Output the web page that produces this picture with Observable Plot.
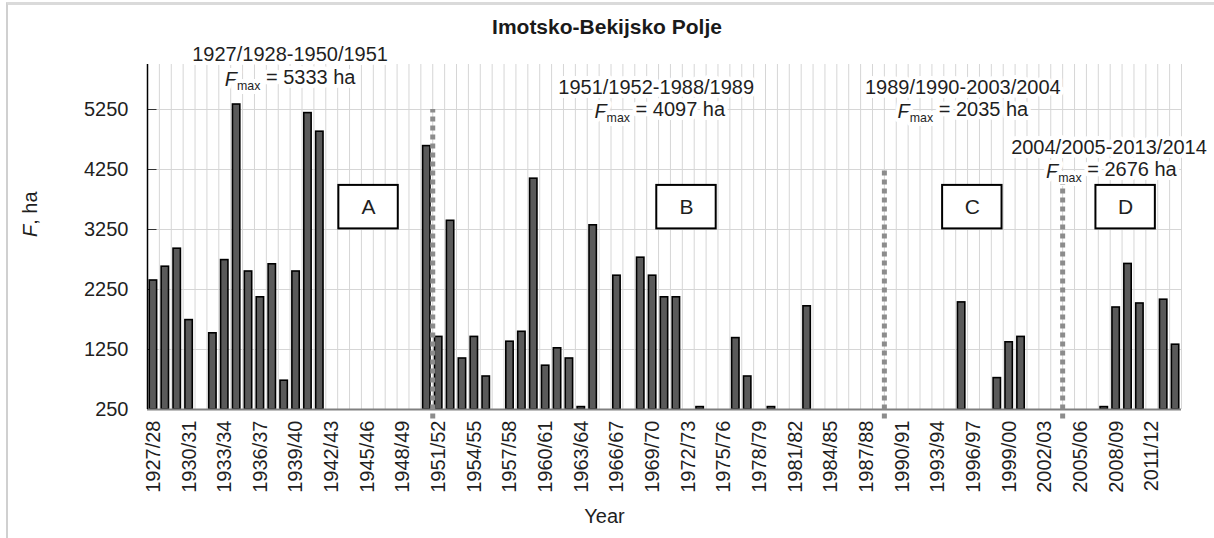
<!DOCTYPE html>
<html><head><meta charset="utf-8">
<script src="https://cdn.jsdelivr.net/npm/d3@7"></script>
<script src="https://cdn.jsdelivr.net/npm/@observablehq/plot@0.6"></script>
<style>
body{margin:0;background:#fff;font-family:"Liberation Sans",Arial,sans-serif;}
#wrap{position:relative;width:1214px;height:538px;overflow:hidden;background:#fff;}
#title{height:40px;box-sizing:border-box;padding-top:17px;line-height:20px;text-align:center;font-weight:bold;font-size:21px;color:#1a1a1a;}
#frame{position:absolute;left:6px;top:2px;right:-10px;bottom:-10px;border-left:2px solid #d0d0d0;border-top:3px solid #dadada;pointer-events:none}
</style></head><body>
<div id="wrap"><div id="title">Imotsko-Bekijsko Polje</div><div id="chart"></div><div id="frame"></div></div>
<script>
// Hydrological years (start year of each season 1927/28 ... 2013/14)
const startYears = [1927,1928,1929,1930,1931,1932,1933,1934,1935,1936,1937,1938,1939,1940,1941,1942,1943,1944,1945,1946,1947,1948,1949,
  1950,1951,1952,1953,1954,1955,1956,1957,1958,1959,1960,1961,1962,1963,1964,1965,1966,1967,1968,1969,1970,1971,1972,1973,1974,1975,
  1976,1977,1978,1979,1980,1981,1982,1983,1984,1985,1986,1987,1988,1989,1990,1991,1992,1993,1994,1995,1996,1997,1998,1999,2000,2001,
  2002,2003,2004,2005,2006,2007,2008,2009,2010,2011,2012,2013];
// Flooded area F (ha); null = no flooding
const areas = [2400,2630,2930,1740,null,1520,2740,5333,2550,2120,2670,730,2550,5190,4880,
  null,null,null,null,null,null,null,null,
  4640,1460,3395,1100,1460,800,null,1380,1545,4097,980,1270,1100,290,3320,null,2480,null,2780,2480,2120,2120,null,290,null,null,1440,800,null,290,null,null,1970,
  null,null,null,null,null,null,null,null,null,null,null,null,
  2035,null,null,773,1370,1460,
  null,null,null,null,null,null,
  290,1950,2676,2017,null,2080,1330];
const tickYears = [1927,1930,1933,1936,1939,1942,1945,1948,1951,1954,1957,1960,1963,1966,1969,1972,1975,1978,1981,1984,1987,1990,1993,1996,1999,2002,2005,2008,2011];
const yTicks = [250,1250,2250,3250,4250,5250];
// Period annotations
const periodLabels = ["1927/1928-1950/1951","1951/1952-1988/1989","1989/1990-2003/2004","2004/2005-2013/2014"];
const fmaxLabels = ["Fmax = 5333 ha","Fmax = 4097 ha","Fmax = 2035 ha","Fmax = 2676 ha"];
const periodX = [1938.5,1969.3,1995.1,2007.4];
const fmaxX = [1938.5,1969.6,1995.1,2007.6];
const periodY = [6170,5620,5620,4620];
const fmaxY = [5745,5212,5212,4212];
// Period boundaries (between seasons) and top of divider line
const dividerX = [1950.5,1988.5,2003.5];
const dividerTop = [5250,4250,4000];
// Period boxes
const boxLabels = ["A","B","C","D"];
const boxX = [1945.1,1971.85,1995.9,2008.8];

const data = startYears.map((y,i)=>({year:y, area:areas[i]})).filter(d=>d.area!=null);
const fmt = y => `${y}/${String((y+1)%100).padStart(2,"0")}`;
const dividers = dividerX.map((x,i)=>({x, top:dividerTop[i]}));

const chart = Plot.plot({
  width:1214, height:498, marginTop:24, marginBottom:129, marginLeft:147, marginRight:33,
  style:{fontFamily:"'Liberation Sans', Arial, sans-serif", fontSize:"20px", color:"#1f1f1f", background:"white", overflow:"visible"},
  x:{domain:[1926.5,2013.5]},
  y:{domain:[250,6000]},
  marks:[
    Plot.ruleX(startYears, {x:d=>d+0.5, stroke:"#d6d6d6", strokeWidth:1}),
    Plot.ruleY(yTicks.slice(1), {stroke:"#d6d6d6", strokeWidth:1}),
    Plot.ruleY(yTicks, {x1:1926.5, x2:1927.3, stroke:"#333", strokeWidth:1}),
    Plot.text(periodLabels, {x:(d,i)=>periodX[i], y:(d,i)=>periodY[i], text:d=>d, fontSize:20, fill:"#1f1f1f", stroke:"white", strokeWidth:8, paintOrder:"stroke"}),
    Plot.text(fmaxLabels, {x:(d,i)=>fmaxX[i], y:(d,i)=>fmaxY[i], text:d=>d, fontSize:20, fill:"#1f1f1f", stroke:"white", strokeWidth:8, paintOrder:"stroke"}),
    Plot.rect(data, {x1:d=>d.year-0.31, x2:d=>d.year+0.31, y1:250, y2:"area", fill:"#5a5a5a", stroke:"#000", strokeWidth:1.6}),
    Plot.ruleY([250], {stroke:"#808080", strokeWidth:2}),
    Plot.ruleX([1926.5], {stroke:"#000", strokeWidth:1.5}),
    Plot.ruleX(dividers, {x:"x", y1:90, y2:"top", stroke:"#8c8c8c", strokeWidth:5, strokeDasharray:"5,4"}),
    Plot.rect(boxLabels, {x1:(d,i)=>boxX[i]-2.5, x2:(d,i)=>boxX[i]+2.5, y1:3260, y2:3985, fill:"white", stroke:"#000", strokeWidth:2}),
    Plot.text(boxLabels, {x:(d,i)=>boxX[i], y:3622, text:d=>d, fontSize:21, fill:"#1f1f1f"}),
    Plot.axisY({ticks:yTicks, tickFormat:d=>String(d), tickSize:0, tickPadding:19, fontSize:20, label:null}),
    Plot.axisX({ticks:tickYears, tickFormat:fmt, tickRotate:-90, tickSize:0, tickPadding:11, fontSize:20, label:null}),
    Plot.text(["F, ha"], {frameAnchor:"left", dx:-117, rotate:-90, fontSize:20, fill:"#1f1f1f"}),
    Plot.text(["Year"], {frameAnchor:"bottom", dx:-60, dy:113, fontSize:20, fill:"#1f1f1f"})
  ]
});
document.getElementById("chart").appendChild(chart);

d3.select(chart).selectAll("text").each(function(){
  const t = this.textContent;
  const sel = d3.select(this);
  if (t.startsWith("Fmax")) {
    const rest = t.slice(4);
    sel.text(null);
    sel.append("tspan").attr("font-style","italic").text("F");
    sel.append("tspan").attr("font-size","0.62em").attr("dy","0.3em").text("max");
    sel.append("tspan").attr("dy","-0.3em").text(rest);
  } else if (t === "F, ha") {
    sel.text(null);
    sel.append("tspan").attr("font-style","italic").text("F");
    sel.append("tspan").text(", ha");
  }
});
</script>
</body></html>
